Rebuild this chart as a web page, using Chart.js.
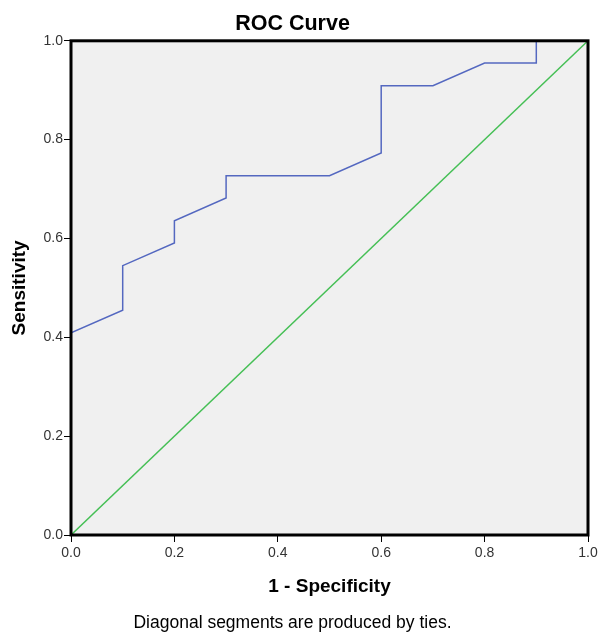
<!DOCTYPE html>
<html>
<head>
<meta charset="utf-8">
<script src="https://cdn.jsdelivr.net/npm/chart.js@4.4.1/dist/chart.umd.min.js"></script>
<style>
  html, body { margin: 0; padding: 0; background: #fff; }
  #wrap { width: 599px; height: 634px; position: relative; }
</style>
</head>
<body>
<div id="wrap"><canvas id="roc"></canvas></div>
<script>
// ROC curve steps (1 - specificity, sensitivity)
const fpr = [0, 0, 0.1, 0.1, 0.2, 0.2, 0.3, 0.3, 0.5, 0.6, 0.6, 0.7, 0.8, 0.9, 0.9, 1.0];
const tpr = [0, 0.409, 0.455, 0.545, 0.591, 0.636, 0.682, 0.727, 0.727, 0.773, 0.909, 0.909, 0.955, 0.955, 1.0, 1.0];
const refX = [0, 1];
const refY = [0, 1];
const tickValues = [0, 0.2, 0.4, 0.6, 0.8, 1.0];

const FONT = 'Arial, "Liberation Sans", sans-serif';

const plotFrame = {
    id: 'plotFrame',
    beforeDraw(chart) {
        const { ctx, chartArea: a } = chart;
        ctx.save();
        ctx.fillStyle = '#f0f0f0';
        ctx.fillRect(a.left, a.top, a.right - a.left, a.bottom - a.top);
        ctx.restore();
    },
    afterDraw(chart) {
        const { ctx, chartArea: a } = chart;
        ctx.save();
        ctx.strokeStyle = '#000';
        ctx.lineWidth = 3;
        ctx.strokeRect(a.left, a.top, a.right - a.left, a.bottom - a.top);
        ctx.restore();
    }
};

const ctx = document.getElementById('roc').getContext('2d');
new Chart(ctx, {
    type: 'scatter',
    data: {
        datasets: [{
            label: 'ROC',
            data: fpr.map((x, i) => ({ x: x, y: tpr[i] })),
            showLine: true,
            borderColor: '#5468c0',
            borderWidth: 1.5,
            pointRadius: 0,
            tension: 0
        }, {
            label: 'Reference',
            data: refX.map((x, i) => ({ x: x, y: refY[i] })),
            showLine: true,
            borderColor: '#45bf55',
            borderWidth: 1.5,
            pointRadius: 0,
            tension: 0
        }]
    },
    options: {
        responsive: true,
        maintainAspectRatio: false,
        animation: false,
        layout: {
            // negative left padding moves the centred title/footer left like the original
            padding: { left: -14, right: 0, top: 0, bottom: 0 }
        },
        scales: {
            x: {
                type: 'linear',
                min: 0,
                max: 1,
                afterBuildTicks: (scale) => { scale.ticks = tickValues.map(v => ({ value: v })); },
                afterFit: (scale) => {
                    scale.height = 78;
                    scale.paddingRight = 11;
                },
                grid: { drawOnChartArea: false, drawTicks: true, tickLength: 7, color: '#000', lineWidth: 1 },
                border: { display: false },
                ticks: {
                    color: '#333',
                    font: { family: FONT, size: 14 },
                    padding: 3,
                    maxRotation: 0,
                    callback: (v) => v.toFixed(1)
                },
                title: {
                    display: true,
                    text: '1 - Specificity',
                    color: '#000',
                    font: { family: FONT, size: 19, weight: 'bold' },
                    padding: { top: 8, bottom: 15 }
                }
            },
            y: {
                type: 'linear',
                min: 0,
                max: 1,
                afterBuildTicks: (scale) => { scale.ticks = tickValues.map(v => ({ value: v })); },
                afterFit: (scale) => { scale.width = 85; },
                grid: { drawOnChartArea: false, drawTicks: true, tickLength: 7, color: '#000', lineWidth: 1 },
                border: { display: false },
                ticks: {
                    color: '#333',
                    font: { family: FONT, size: 14 },
                    padding: 1,
                    callback: (v) => v.toFixed(1)
                },
                title: {
                    display: true,
                    text: 'Sensitivity',
                    color: '#000',
                    font: { family: FONT, size: 19, weight: 'bold' },
                    padding: { top: 22, bottom: 2 }
                }
            }
        },
        plugins: {
            legend: { display: false },
            tooltip: { enabled: false },
            title: {
                display: true,
                text: 'ROC Curve',
                color: '#000',
                font: { family: FONT, size: 21.5, weight: 'bold' },
                padding: { top: 11, bottom: 4 }
            },
            subtitle: {
                display: true,
                position: 'bottom',
                text: 'Diagonal segments are produced by ties.',
                color: '#000',
                font: { family: FONT, size: 17.5, weight: 'normal' },
                padding: { top: 0, bottom: 0 }
            }
        }
    },
    plugins: [plotFrame]
});
</script>
</body>
</html>
